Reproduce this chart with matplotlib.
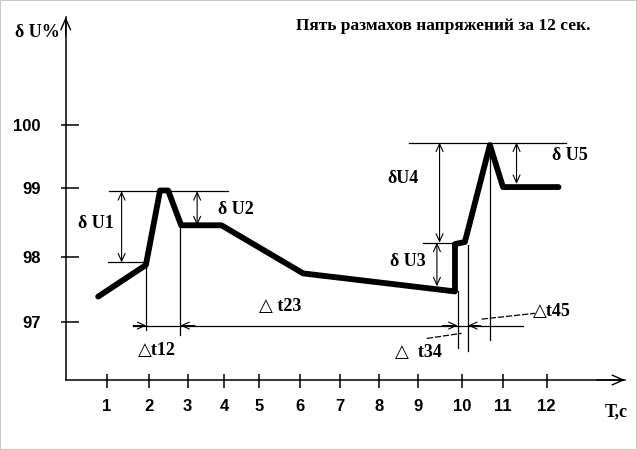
import numpy as np
import matplotlib
matplotlib.use("Agg")
import matplotlib.pyplot as plt
from matplotlib.ticker import FixedLocator, NullFormatter
from matplotlib.patches import Rectangle

# ---------------- data ----------------
time_s = [0.80, 1.92, 2.28, 2.49, 2.83, 3.93, 6.08, 9.84, 9.84, 10.07, 10.68, 11.00, 12.27]
dU_pct = [97.39, 97.88, 98.96, 98.96, 98.46, 98.46, 97.75, 97.47, 98.19, 98.22, 99.68, 99.01, 99.01]

x_ticks = [1, 2, 3, 4, 5, 6, 7, 8, 9, 10, 11, 12]
x_tick_labels = [str(v) for v in x_ticks]
y_ticks = [97, 98, 99, 100]
y_tick_labels = [str(v) for v in y_ticks]

title = "Пять размахов напряжений за 12 сек."

# swing levels (%): top/bottom of each delta-U arrow
dU1 = (98.95, 97.92)
dU2 = (98.95, 98.46)
dU3 = (98.21, 97.55)
dU4 = (99.72, 98.21)
dU5 = (99.72, 99.06)
# instants (s) bounding the intervals
t_marks = [1.93, 2.81, 9.90, 10.15, 10.68]

# ---------------- hand-drawn, uneven axis spacing ----------------
x_tick_px = [106.7, 149.3, 187.7, 224.0, 259.3, 300.0, 339.7, 379.0, 418.0, 462.0, 503.0, 546.7]
y_tick_px = [321.7, 257.3, 187.7, 125.0]
xa = [-20] + x_ticks + [40]
xp = [106.7 - 21 * 42.6] + x_tick_px + [546.7 + 28 * 43.7]
ya = [80] + y_ticks + [120]
yp = [-(321.7 + 17 * 64.4)] + [-p for p in y_tick_px] + [-(125.0 - 20 * 62.7)]


def fx(v):
    return np.interp(v, xa, xp)


def fx_inv(p):
    return np.interp(p, xp, xa)


def fy(v):
    return np.interp(v, ya, yp)


def fy_inv(p):
    return np.interp(p, yp, ya)


W, H = 637, 450
fig = plt.figure(figsize=(W / 100, H / 100), dpi=100)
fig.patch.set_facecolor("white")
fig.patches.append(Rectangle((0, 0), 1, 1, transform=fig.transFigure, fill=False,
                             edgecolor="#c8c8c8", lw=1.5))

left_px, right_px, bottom_px, top_px = 65.7, 625.0, 380.0, 17.0
ax = fig.add_axes([left_px / W, (H - bottom_px) / H, (right_px - left_px) / W, (bottom_px - top_px) / H])
ax.set_facecolor("none")
ax.set_xscale("function", functions=(fx, fx_inv))
ax.set_yscale("function", functions=(fy, fy_inv))
ax.set_xlim(fx_inv(left_px), fx_inv(right_px))
ax.set_ylim(fy_inv(-bottom_px), fy_inv(-top_px))

for s in ["top", "right"]:
    ax.spines[s].set_visible(False)
for s in ["left", "bottom"]:
    ax.spines[s].set_linewidth(1.1)

# ticks (asymmetric crossing marks)
ax.xaxis.set_major_locator(FixedLocator(x_ticks))
ax.xaxis.set_minor_locator(FixedLocator(x_ticks))
ax.yaxis.set_major_locator(FixedLocator(y_ticks))
ax.yaxis.set_minor_locator(FixedLocator(y_ticks))
ax.xaxis.remove_overlapping_locs = False
ax.yaxis.remove_overlapping_locs = False
ax.xaxis.set_minor_formatter(NullFormatter())
ax.yaxis.set_minor_formatter(NullFormatter())
ax.set_xticklabels(x_tick_labels)
ax.set_yticklabels(y_tick_labels)
ax.tick_params(axis="x", which="major", direction="in", length=4.3, width=1.1, pad=14)
ax.tick_params(axis="x", which="minor", direction="out", length=5.8, width=1.1)
ax.tick_params(axis="y", which="major", direction="in", length=9.6, width=1.1, pad=18)
ax.tick_params(axis="y", which="minor", direction="out", length=3.4, width=1.1)
for lab in ax.get_xticklabels() + ax.get_yticklabels():
    lab.set_fontfamily("Liberation Sans")
    lab.set_fontweight("bold")
    lab.set_fontsize(12)

# axis arrow heads
arrow_axis = dict(arrowstyle="->,head_length=0.8,head_width=0.35", lw=1.0, color="black",
                  shrinkA=0, shrinkB=0)
ax.annotate("", xy=(1, 0), xytext=(0.95, 0), xycoords="axes fraction", arrowprops=arrow_axis,
            annotation_clip=False)
ax.annotate("", xy=(0, 1), xytext=(0, 0.95), xycoords="axes fraction", arrowprops=arrow_axis,
            annotation_clip=False)

# ---------------- main curve ----------------
ax.plot(time_s, dU_pct, color="black", lw=4.2, solid_joinstyle="round", solid_capstyle="round",
        zorder=5, clip_on=False)

thin = dict(color="black", lw=0.9, clip_on=False)
dbl = dict(arrowstyle="<->,head_length=0.55,head_width=0.25", lw=0.8, color="black",
           shrinkA=0, shrinkB=0)
one = dict(arrowstyle="->,head_length=0.55,head_width=0.25", lw=0.8, color="black",
           shrinkA=0, shrinkB=0)

# delta U reference lines
ax.plot([1.05, 4.11], [dU1[0], dU1[0]], **thin)
ax.plot([1.03, 1.95], [dU1[1], dU1[1]], **thin)
ax.plot([8.77, 12.45], [dU4[0], dU4[0]], **thin)
ax.plot([9.11, 10.05], [dU4[1], dU4[1]], **thin)

ax.annotate("", xy=(1.35, dU1[1]), xytext=(1.35, dU1[0]), arrowprops=dbl)
ax.annotate("", xy=(3.26, dU2[1]), xytext=(3.26, dU2[0]), arrowprops=dbl)
ax.annotate("", xy=(9.43, dU3[1]), xytext=(9.43, dU3[0]), arrowprops=dbl)
ax.annotate("", xy=(9.49, dU4[1]), xytext=(9.49, dU4[0]), arrowprops=dbl)
ax.annotate("", xy=(11.31, dU5[1]), xytext=(11.31, dU5[0]), arrowprops=dbl)

# delta t lines
ax.plot([t_marks[0]] * 2, [96.87, 97.90], **thin)
ax.plot([t_marks[1]] * 2, [96.79, 98.46], **thin)
ax.plot([t_marks[2]] * 2, [96.59, 97.47], **thin)
ax.plot([t_marks[3]] * 2, [96.54, 98.17], **thin)
ax.plot([t_marks[4]] * 2, [96.72, 99.70], **thin)
ax.plot([1.62, 11.45], [96.94, 96.94], **thin)
ax.annotate("", xy=(t_marks[0], 96.94), xytext=(1.62, 96.94), arrowprops=one)
ax.annotate("", xy=(t_marks[1], 96.94), xytext=(3.20, 96.94), arrowprops=one)
ax.annotate("", xy=(t_marks[2], 96.94), xytext=(9.55, 96.94), arrowprops=one)
ax.annotate("", xy=(t_marks[3], 96.94), xytext=(10.45, 96.94), arrowprops=one)

# leaders
ax.plot([9.20, 9.99], [96.74, 96.82], color="black", lw=0.9, ls=(0, (5, 1.5)), clip_on=False)
ax.plot([10.48, 11.73], [97.04, 97.13], color="black", lw=0.9, ls=(0, (5, 1.5)), clip_on=False)

# ---------------- texts ----------------
serif = ["Liberation Serif", "DejaVu Serif", "DejaVu Sans"]
lab = dict(fontfamily=serif, fontweight="bold", fontsize=13, ha="left", va="center")
ax.text(0.33, 98.48, "δ U1", **lab)
ax.text(3.83, 98.69, "δ U2", **lab)
ax.text(8.28, 97.93, "δ U3", **lab)
ax.text(8.21, 99.14, "δU4", **lab)
ax.text(12.12, 99.52, "δ U5", **lab)
ax.text(5.00, 97.23, "△ t23", **lab)
ax.text(1.73, 96.56, "△t12", **lab)
ax.text(8.41, 96.52, "△  t34", **lab)
ax.text(11.69, 97.16, "△t45", **lab)
ax.text(-1.15, 101.47, "δ U%", **lab)
ax.text(13.33, 95.60, "T,c", **lab)
ax.text(9.57, 101.58, title, fontfamily=serif, fontweight="bold", fontsize=12.5,
        ha="center", va="center")

fig.savefig("out.png", dpi=100)
